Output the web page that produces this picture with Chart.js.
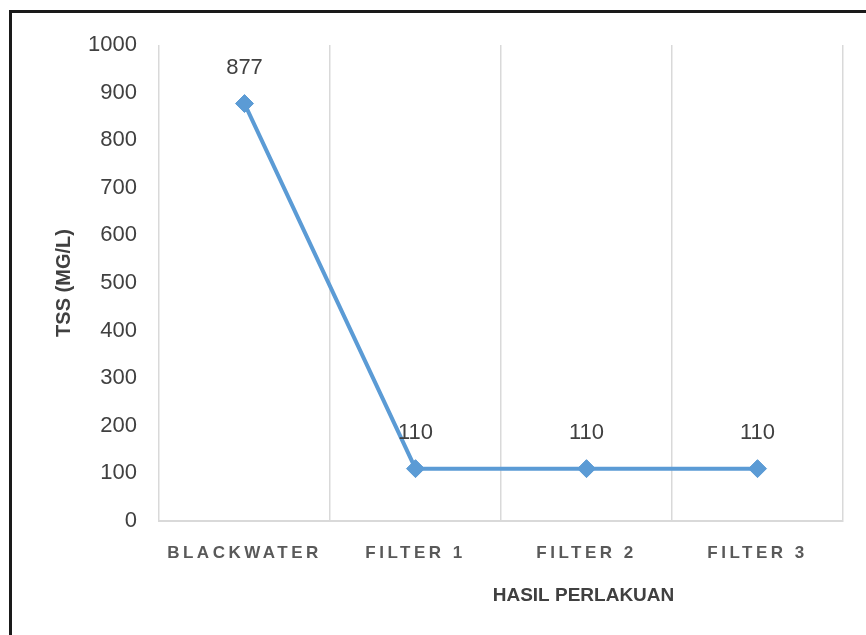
<!DOCTYPE html>
<html>
<head>
<meta charset="utf-8">
<title>TSS</title>
<script src="https://cdn.jsdelivr.net/npm/chart.js@4/dist/chart.umd.min.js"></script>
<style>
  body { margin: 0; background: #fff; }
  #wrap { width: 866px; height: 635px; position: relative; }
</style>
</head>
<body>
<div id="wrap"><canvas id="myChart" width="866" height="635"></canvas></div>
<script>
const categories = ['BLACKWATER', 'FILTER 1', 'FILTER 2', 'FILTER 3'];
const tssValues = [877, 110, 110, 110];
const yTicks = [0, 100, 200, 300, 400, 500, 600, 700, 800, 900, 1000];
const xTitle = 'HASIL PERLAKUAN';
const yTitle = 'TSS (MG/L)';

const lineColor = '#5B9BD5';
const gridColor = '#d9d9d9';
const textColor = '#404040';
const fontFamily = '"Liberation Sans", Arial, sans-serif';

// frame on the left and top edge, like the cropped picture
const framePlugin = {
    id: 'frame',
    beforeDraw(chart) {
        const ctx = chart.ctx;
        ctx.save();
        ctx.fillStyle = '#fff';
        ctx.fillRect(0, 0, chart.width, chart.height);
        ctx.fillStyle = '#1a1a1a';
        ctx.fillRect(9, 10, 3, chart.height - 10);
        ctx.fillRect(9, 10, chart.width - 9, 3);
        ctx.restore();

        // spaced letters for the category labels only
        const xs = chart.scales.x;
        if (xs && !xs._spaced) {
            const orig = xs.drawLabels;
            xs.drawLabels = function(area) {
                this.ctx.save();
                this.ctx.letterSpacing = '3.5px';
                orig.call(this, area);
                this.ctx.restore();
            };
            xs._spaced = true;
        }
    }
};

const valueLabels = {
    id: 'valueLabels',
    afterDatasetsDraw(chart) {
        const ctx = chart.ctx;
        const meta = chart.getDatasetMeta(0);
        ctx.save();
        ctx.font = '22px ' + fontFamily;
        ctx.fillStyle = textColor;
        ctx.textAlign = 'center';
        ctx.textBaseline = 'middle';
        meta.data.forEach((pt, i) => {
            ctx.fillText(String(tssValues[i]), pt.x, pt.y - 36);
        });

        // x axis title sits a bit right of centre in the original
        const xs = chart.scales.x;
        ctx.font = 'bold 19px ' + fontFamily;
        ctx.fillText(xTitle, xs.getPixelForValue(2) - 3, chart.chartArea.bottom + 75);
        ctx.restore();
    }
};

let config = {
    type: 'line',
    data: {
        labels: categories,
        datasets: [{
            label: 'TSS',
            data: tssValues,
            borderColor: lineColor,
            backgroundColor: lineColor,
            borderWidth: 4,
            tension: 0,
            pointStyle: 'rectRot',
            pointRadius: 9,
            pointHoverRadius: 9,
            pointBorderWidth: 1,
            pointBorderColor: lineColor,
            pointBackgroundColor: lineColor
        }]
    },
    options: {
        responsive: false,
        animation: false,
        events: [],
        layout: { padding: { left: 12, right: 23, top: 45, bottom: 0 } },
        plugins: {
            legend: { display: false },
            tooltip: { enabled: false }
        },
        scales: {
            x: {
                offset: true,
                grid: { offset: true, color: gridColor, lineWidth: 1.5, drawTicks: false },
                border: { display: true, color: gridColor, width: 2 },
                ticks: {
                    padding: 22,
                    color: '#595959',
                    font: { family: fontFamily, size: 17, weight: 'bold' },
                    maxRotation: 0
                },
                title: { display: false },
                afterFit(s) { s.height = 114; }
            },
            y: {
                min: 0,
                max: 1000,
                afterBuildTicks(s) { s.ticks = yTicks.map(v => ({ value: v })); },
                grid: { display: false, drawTicks: false },
                border: { display: false },
                ticks: {
                    padding: 22,
                    color: textColor,
                    font: { family: fontFamily, size: 22 },
                    callback: v => String(v)
                },
                title: {
                    display: true,
                    text: yTitle,
                    color: textColor,
                    font: { family: fontFamily, size: 20, weight: 'bold' },
                    padding: { top: 40, bottom: 0 }
                },
                afterFit(s) { s.width = 147; }
            }
        }
    },
    plugins: [framePlugin, valueLabels]
};

let myChart = new Chart(document.getElementById('myChart'), config);
</script>
</body>
</html>
